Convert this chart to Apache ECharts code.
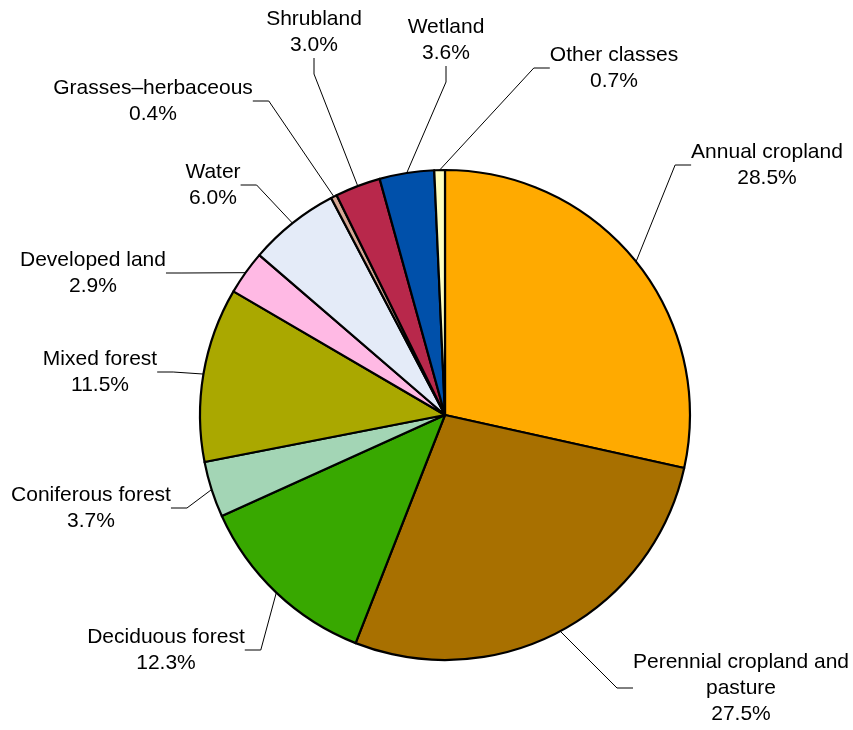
<!DOCTYPE html>
<html>
<head>
<meta charset="utf-8">
<title>Land cover classes</title>
<script src="https://cdn.jsdelivr.net/npm/echarts@6/dist/echarts.min.js"></script>
<style>
  html, body { margin: 0; padding: 0; background: #ffffff; }
  #chart { width: 853px; height: 730px; }
</style>
</head>
<body>
<div id="chart"></div>
<script>
// Land cover classes, clockwise from 12 o'clock
const classNames = [
  'Annual cropland',
  'Perennial cropland and\npasture',
  'Deciduous forest',
  'Coniferous forest',
  'Mixed forest',
  'Developed land',
  'Water',
  'Grasses\u2013herbaceous',
  'Shrubland',
  'Wetland',
  'Other classes'
];
// Share of area, percent
const sharePct = [28.5, 27.5, 12.3, 3.7, 11.5, 2.9, 6.0, 0.4, 3.0, 3.6, 0.7];

const classColors = [
  '#ffaa00', '#a87000', '#38a800', '#a3d5b5', '#aaa800', '#ffb9e4',
  '#e4ebf8', '#d6a896', '#b8284b', '#0050aa', '#ffffc0'
];

// Centre of each label block (layout only)
const labelAnchors = [
  [767, 165], [741, 688], [166, 650], [91, 508], [100, 372], [93, 273],
  [213, 185], [153, 101], [314, 32], [446, 40], [614, 68]
];

const chart = echarts.init(document.getElementById('chart'), null, { renderer: 'canvas' });

chart.setOption({
  animation: false,
  backgroundColor: '#ffffff',
  series: [{
    type: 'pie',
    center: [445, 415],
    radius: [0, 245],
    startAngle: 90,
    clockwise: true,
    avoidLabelOverlap: false,
    silent: true,
    data: classNames.map((n, i) => ({
      name: n,
      value: sharePct[i],
      itemStyle: { color: classColors[i] }
    })),
    itemStyle: { borderColor: '#000000', borderWidth: 2.2 },
    label: {
      show: true,
      position: 'outside',
      color: '#000000',
      fontFamily: '"Liberation Sans", Arial, Helvetica, sans-serif',
      fontSize: 21,
      lineHeight: 26,
      align: 'center',
      formatter: (p) => p.name + '\n' + p.value.toFixed(1) + '%'
    },
    labelLine: {
      show: true,
      length: 20,
      length2: 16,
      smooth: false,
      lineStyle: { color: '#000000', width: 1 }
    },
    labelLayout: (params) => {
      const a = labelAnchors[params.dataIndex];
      return { x: a[0], y: a[1], align: 'center', verticalAlign: 'middle' };
    }
  }]
});
</script>
</body>
</html>
